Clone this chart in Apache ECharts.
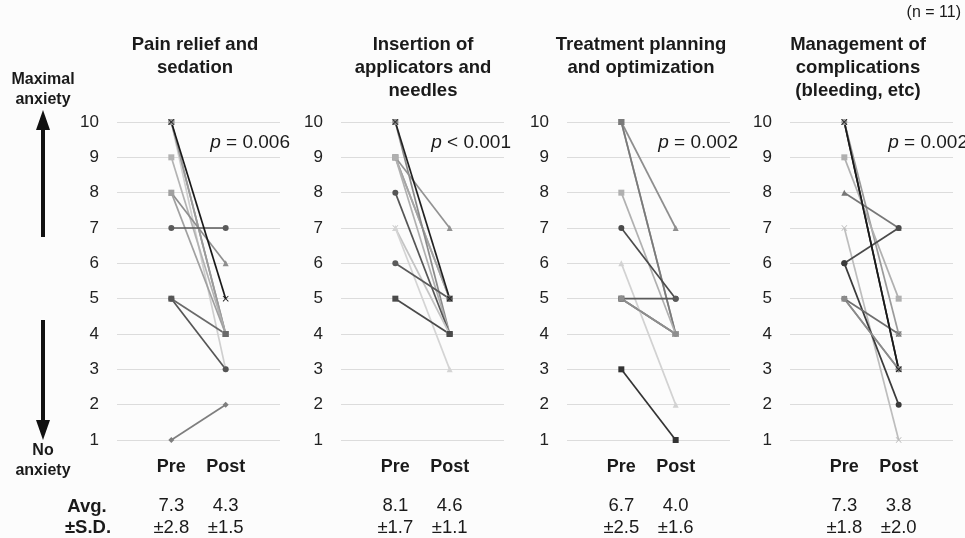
<!DOCTYPE html>
<html>
<head>
<meta charset="utf-8">
<script src="https://cdn.jsdelivr.net/npm/echarts@6/dist/echarts.min.js"></script>
<style>
html,body{margin:0;padding:0;background:#fcfcfc;}
#chart{width:965px;height:538px;}
</style>
</head>
<body>
<div id="chart"></div>
<script>
// ---------- data ----------
const categories = ['Pre', 'Post'];
const panelTitles = ['Pain relief and\nsedation', 'Insertion of\napplicators and\nneedles', 'Treatment planning\nand optimization', 'Management of\ncomplications\n(bleeding, etc)'];
const yTicks = [1, 2, 3, 4, 5, 6, 7, 8, 9, 10];

const prePain  = [10, 10, 10, 9, 8, 8, 7, 5, 5, 1, 10];
const postPain = [4, 3, 4, 4, 6, 4, 7, 4, 3, 2, 5];

const preInsert  = [9, 9, 10, 9, 9, 8, 7, 7, 6, 5, 10];
const postInsert = [5, 5, 4, 7, 4, 4, 4, 3, 5, 4, 5];

const prePlan  = [5, 5, 10, 10, 10, 8, 7, 6, 5, 5, 3];
const postPlan = [4, 4, 7, 4, 4, 4, 5, 2, 5, 4, 1];

const preComp  = [10, 5, 10, 9, 8, 7, 6, 6, 5, 5, 10];
const postComp = [3, 3, 4, 5, 7, 1, 7, 2, 4, 3, 3];

const pLabels = ['0.006', '0.001', '0.002', '0.002'];
const pOps = ['=', '<', '=', '='];
const avgPre  = ['7.3', '8.1', '6.7', '7.3'];
const sdPre   = ['2.8', '1.7', '2.5', '1.8'];
const avgPost = ['4.3', '4.6', '4.0', '3.8'];
const sdPost  = ['1.5', '1.1', '1.6', '2.0'];
const sampleNote = '(n = 11)';

// ---------- styles (separate from data) ----------
const X_PATH = 'path://M0,1L1,0L5,4L9,0L10,1L6,5L10,9L9,10L5,6L1,10L0,9L4,5Z';
const stylesPain = [
  ['#8c8c8c','rect'], ['#cfcfcf','circle'], ['#9a9a9a','rect'], ['#b3b3b3','rect'],
  ['#8e8e8e','triangle'], ['#a0a0a0','rect'], ['#5a5a5a','circle'], ['#6a6a6a','rect'],
  ['#555555','circle'], ['#7e7e7e','diamond'], ['#1a1a1a', X_PATH]
];
const stylesInsert = [
  ['#9a9a9a','rect'], ['#a5a5a5','rect'], ['#8a8a8a','rect'], ['#929292','triangle'],
  ['#b0b0b0','rect'], ['#555555','circle'], ['#c4c4c4', X_PATH], ['#d4d4d4','triangle'],
  ['#5a5a5a','circle'], ['#4a4a4a','rect'], ['#222222', X_PATH]
];
const stylesPlan = [
  ['#8a8a8a','rect'], ['#8a8a8a','rect'], ['#8e8e8e','triangle'], ['#999999','rect'],
  ['#7a7a7a','rect'], ['#b0b0b0','rect'], ['#4a4a4a','circle'], ['#d2d2d2','triangle'],
  ['#5a5a5a','circle'], ['#8e8e8e','circle'], ['#333333','rect']
];
const stylesComp = [
  ['#222222', X_PATH], ['#888888','circle'], ['#9a9a9a','circle'], ['#b0b0b0','rect'],
  ['#777777','triangle'], ['#bdbdbd', X_PATH], ['#4a4a4a','circle'], ['#3a3a3a','circle'],
  ['#6e6e6e', X_PATH], ['#8a8a8a','circle'], ['#1a1a1a', X_PATH]
];

const panels = [
  {pre: prePain, post: postPain, styles: stylesPain},
  {pre: preInsert, post: postInsert, styles: stylesInsert},
  {pre: prePlan, post: postPlan, styles: stylesPlan},
  {pre: preComp, post: postComp, styles: stylesComp}
];

// ---------- layout ----------
const FONT = '"Liberation Sans", Arial, sans-serif';
const gridLefts = [117, 341, 567, 790];
const gridW = 163, gridTop = 122, gridH = 318;
const titleCenters = [195, 423, 641, 858];
const pRight = [290, 511, 738, 968];

const grids = [], xAxes = [], yAxes = [], series = [], graphics = [];

panels.forEach((p, gi) => {
  grids.push({left: gridLefts[gi], top: gridTop, width: gridW, height: gridH});
  xAxes.push({
    type: 'value', gridIndex: gi, min: -1, max: 2, interval: 1,
    axisLine: {show: false}, axisTick: {show: false}, splitLine: {show: false},
    axisLabel: {
      margin: 18, fontSize: 18, fontWeight: 'bold', color: '#1a1a1a', fontFamily: FONT,
      showMinLabel: true, showMaxLabel: true,
      formatter: v => (v === 0 ? categories[0] : v === 1 ? categories[1] : '')
    }
  });
  yAxes.push({
    type: 'value', gridIndex: gi, min: yTicks[0], max: yTicks[yTicks.length - 1], interval: 1,
    axisLine: {show: false}, axisTick: {show: false},
    splitLine: {lineStyle: {color: '#dcdcdc', width: 1}},
    axisLabel: {margin: 18, fontSize: 17, color: '#222', fontFamily: FONT}
  });
  p.pre.forEach((v, i) => {
    const st = p.styles[i];
    series.push({
      type: 'line', xAxisIndex: gi, yAxisIndex: gi,
      data: [[0, v], [1, p.post[i]]],
      symbol: st[1], symbolSize: 6,
      lineStyle: {color: st[0], width: 1.7},
      itemStyle: {color: st[0]},
      animation: false, silent: true
    });
  });

  graphics.push({
    type: 'text', x: titleCenters[gi], y: 33,
    style: {text: panelTitles[gi], font: 'bold 18.5px ' + FONT, fill: '#1a1a1a',
            textAlign: 'center', textVerticalAlign: 'top', lineHeight: 23}
  });
  graphics.push({
    type: 'text', x: pRight[gi], y: 143,
    style: {
      text: '{i|p} ' + pOps[gi] + ' ' + pLabels[gi],
      textAlign: 'right', textVerticalAlign: 'middle',
      font: '19px ' + FONT, fill: '#1a1a1a',
      rich: {i: {fontStyle: 'italic', fontSize: 19, fontFamily: FONT, fill: '#1a1a1a'}}
    }
  });
  const unit = gridW / 3;
  const xPre = gridLefts[gi] + unit, xPost = gridLefts[gi] + 2 * unit;
  [[xPre, avgPre[gi], sdPre[gi]], [xPost, avgPost[gi], sdPost[gi]]].forEach(t => {
    graphics.push({type: 'text', x: t[0], y: 506,
      style: {text: t[1], textAlign: 'center', textVerticalAlign: 'middle', font: '18.5px ' + FONT, fill: '#1a1a1a'}});
    graphics.push({type: 'text', x: t[0], y: 528,
      style: {text: '±' + t[2], textAlign: 'center', textVerticalAlign: 'middle', font: '18.5px ' + FONT, fill: '#1a1a1a'}});
  });
});

// side annotations
graphics.push(
  {type: 'text', x: 43, y: 90, style: {text: 'Maximal\nanxiety', textAlign: 'center', textVerticalAlign: 'middle', font: 'bold 16px ' + FONT, fill: '#1a1a1a', lineHeight: 20}},
  {type: 'text', x: 43, y: 461, style: {text: 'No\nanxiety', textAlign: 'center', textVerticalAlign: 'middle', font: 'bold 16px ' + FONT, fill: '#1a1a1a', lineHeight: 20}},
  {type: 'line', shape: {x1: 43, y1: 128, x2: 43, y2: 237}, style: {stroke: '#111', lineWidth: 4}},
  {type: 'polygon', shape: {points: [[43, 110], [36, 130], [50, 130]]}, style: {fill: '#111'}},
  {type: 'line', shape: {x1: 43, y1: 320, x2: 43, y2: 425}, style: {stroke: '#111', lineWidth: 4}},
  {type: 'polygon', shape: {points: [[43, 440], [36, 420], [50, 420]]}, style: {fill: '#111'}},
  {type: 'text', x: 87, y: 507, style: {text: 'Avg.', textAlign: 'center', textVerticalAlign: 'middle', font: 'bold 18.5px ' + FONT, fill: '#1a1a1a'}},
  {type: 'text', x: 88, y: 528, style: {text: '±S.D.', textAlign: 'center', textVerticalAlign: 'middle', font: 'bold 18.5px ' + FONT, fill: '#1a1a1a'}},
  {type: 'text', x: 961, y: 13, style: {text: sampleNote, textAlign: 'right', textVerticalAlign: 'middle', font: '16px ' + FONT, fill: '#1a1a1a'}}
);

const chart = echarts.init(document.getElementById('chart'), null, {renderer: 'canvas'});
chart.setOption({
  backgroundColor: '#fcfcfc',
  animation: false,
  grid: grids, xAxis: xAxes, yAxis: yAxes, series: series,
  graphic: graphics
});
</script>
</body>
</html>
